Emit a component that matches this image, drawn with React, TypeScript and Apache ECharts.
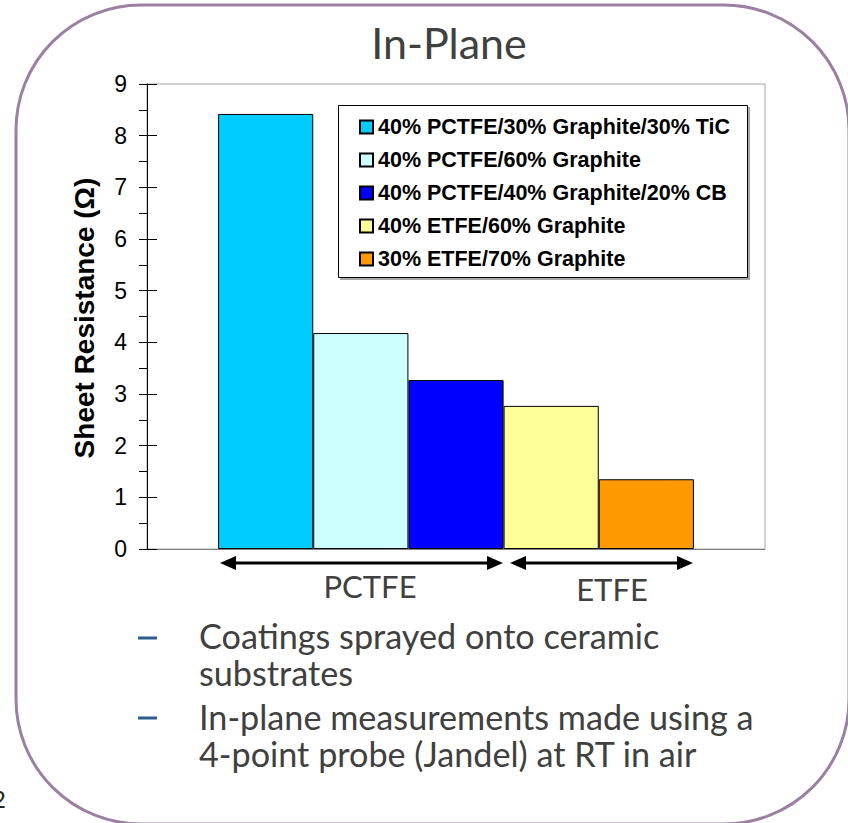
import React, { useEffect, useRef } from "react";
import * as echarts from "echarts";

const categories = ["In-Plane"];
const seriesNames = [
  "40% PCTFE/30% Graphite/30% TiC",
  "40% PCTFE/60% Graphite",
  "40% PCTFE/40% Graphite/20% CB",
  "40% ETFE/60% Graphite",
  "30% ETFE/70% Graphite",
];
const seriesValues = [8.42, 4.18, 3.27, 2.77, 1.35];
const seriesColors = ["#00CCFF", "#CCFFFF", "#0000FF", "#FFFF99", "#FF9900"];
const yMin = 0;
const yMax = 9;
const groupLabels = ["PCTFE", "ETFE"];
const bulletLines = [
  "Coatings sprayed onto ceramic",
  "substrates",
  "In-plane measurements made using a",
  "4-point probe (Jandel) at RT in air",
];
const title = "In-Plane";
const yTitle = "Sheet Resistance (Ω)";

const SANS = "Lato, 'Open Sans', sans-serif";
const ARIAL = "'Liberation Sans', Arial, sans-serif";
const GRAY = "#404040";

function arrow(x1: number, x2: number, y: number) {
  const head = 16;
  const hh = 7;
  return [
    {
      type: "line",
      shape: { x1: x1 + head - 2, y1: y, x2: x2 - head + 2, y2: y },
      style: { stroke: "#000", lineWidth: 3 },
    },
    {
      type: "polygon",
      shape: { points: [[x1, y], [x1 + head, y - hh], [x1 + head, y + hh]] },
      style: { fill: "#000" },
    },
    {
      type: "polygon",
      shape: { points: [[x2, y], [x2 - head, y - hh], [x2 - head, y + hh]] },
      style: { fill: "#000" },
    },
  ];
}

export default function App() {
  const ref = useRef<HTMLDivElement>(null);
  useEffect(() => {
    if (!ref.current) return;
    const chart = echarts.init(ref.current, undefined, { renderer: "svg" });
    const series = seriesNames.map((name, i) => ({
      name,
      type: "bar",
      data: [seriesValues[i]],
      barGap: "0%",
      barCategoryGap: "23%",
      itemStyle: { color: seriesColors[i], borderColor: "#000", borderWidth: 1 },
    }));
    const bulletY = [635, 672, 716, 753];
    const graphic: any[] = [
      {
        type: "rect",
        shape: { x: 16, y: 5, width: 833, height: 819, r: 125 },
        style: { fill: "none", stroke: "#9C7FA3", lineWidth: 3 },
        z: -1,
      },
      {
        type: "text",
        x: 449,
        y: 42,
        style: { text: title, font: `43px ${SANS}`, fill: GRAY, align: "center", verticalAlign: "middle" },
      },
      {
        type: "rect",
        shape: { x: 338.5, y: 105.5, width: 409, height: 172 },
        style: { fill: "#fff", stroke: "#000", lineWidth: 1, shadowColor: "rgba(0,0,0,0.35)", shadowOffsetX: 2, shadowOffsetY: 2, shadowBlur: 0 },
        z: 5,
      },
      ...arrow(220, 503, 563),
      ...arrow(510, 693, 563),
      {
        type: "text",
        x: 370,
        y: 586,
        style: { text: groupLabels[0], font: `31px ${SANS}`, fill: GRAY, align: "center", verticalAlign: "middle" },
      },
      {
        type: "text",
        x: 612,
        y: 589,
        style: { text: groupLabels[1], font: `31px ${SANS}`, fill: GRAY, align: "center", verticalAlign: "middle" },
      },
      {
        type: "rect",
        shape: { x: 138, y: 636.5, width: 19, height: 3 },
        style: { fill: "#2E5A8E" },
      },
      {
        type: "rect",
        shape: { x: 138, y: 716.5, width: 19, height: 3 },
        style: { fill: "#2E5A8E" },
      },
      ...bulletLines.map((t, i) => ({
        type: "text",
        x: 199,
        y: bulletY[i],
        style: { text: t, font: `34.2px ${SANS}`, lineHeight: 34, fill: GRAY, align: "left", verticalAlign: "middle" },
      })),
      {
        type: "text",
        x: -8,
        y: 798,
        style: { text: "2", font: `24px ${SANS}`, fill: "#222", align: "left", verticalAlign: "middle" },
      },
      {
        type: "text",
        x: 84,
        y: 318,
        rotation: Math.PI / 2,
        style: { text: yTitle, font: `bold 28px ${ARIAL}`, fill: "#000", align: "center", verticalAlign: "middle" },
      },
    ];
    chart.setOption({
      animation: false,
      backgroundColor: "#fff",
      grid: {
        left: 147,
        top: 84,
        width: 618,
        height: 465,
        show: true,
        borderColor: "#A6A6A6",
        borderWidth: 1,
        backgroundColor: "transparent",
      },
      legend: {
        orient: "vertical",
        left: 359,
        top: 116,
        padding: 0,
        itemWidth: 13,
        itemHeight: 13,
        itemGap: 11,
        itemTextGap: 8,
        icon: "rect",
        z: 10,
        textStyle: { fontFamily: ARIAL, fontWeight: "bold", fontSize: 21.5, lineHeight: 21, color: "#000" },
        data: seriesNames,
      },
      xAxis: {
        type: "category",
        data: categories,
        axisLine: { lineStyle: { color: "#7F7F7F", width: 1 } },
        axisTick: { show: false },
        axisLabel: { show: false },
      },
      yAxis: [
        {
          type: "value",
          min: yMin,
          max: yMax,
          interval: 0.5,
          axisLine: { show: true, lineStyle: { color: "#000", width: 1 } },
          axisTick: { show: true, inside: false, length: 8, lineStyle: { color: "#000" } },
          axisLabel: {
            margin: 20,
            fontFamily: ARIAL,
            fontSize: 23,
            color: "#000",
            formatter: (v: number) => (Number.isInteger(v) ? String(v) : ""),
          },
          splitLine: { show: false },
        },
        {
          type: "value",
          min: yMin,
          max: yMax,
          interval: 1,
          position: "left",
          axisLine: { show: false },
          axisTick: { show: true, inside: true, length: 10, lineStyle: { color: "#000" } },
          axisLabel: { show: false },
          splitLine: { show: false },
        },
      ],
      series,
      graphic,
    });
    return () => chart.dispose();
  }, []);
  return (
    <div
      ref={ref}
      style={{ position: "fixed", left: 0, top: 0, width: 848, height: 823, background: "#fff" }}
    />
  );
}
